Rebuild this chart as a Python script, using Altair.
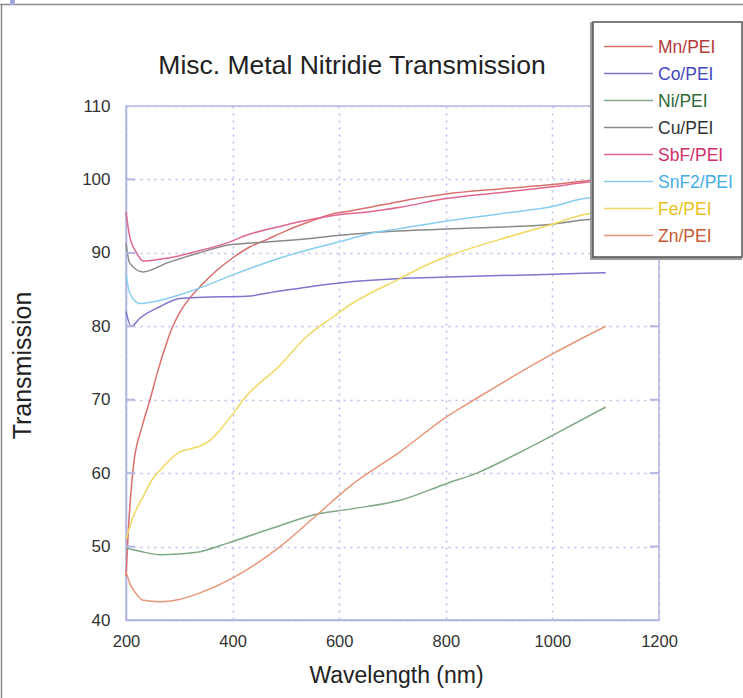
import altair as alt
import pandas as pd

# ---------------- data ----------------
SERIES = ["Mn/PEI", "Co/PEI", "Ni/PEI", "Cu/PEI", "SbF/PEI", "SnF2/PEI", "Fe/PEI", "Zn/PEI"]
LINE_COLORS = ["#d9706e", "#7d76cc", "#7fa886", "#8a8a8a", "#e2668f", "#86cdf0", "#f1d860", "#e8967a"]
TEXT_COLORS = ["#b53a3a", "#4646c0", "#2f6a3a", "#333333", "#d0306a", "#45aee6", "#e8c21a", "#c65a32"]

MN_WL = [200, 205, 214, 230, 245, 260, 276, 286, 301, 316, 339, 370, 400, 432, 464, 500, 539, 582, 620, 658, 714, 800, 900, 1000, 1062, 1100]
MN_T  = [46.0, 53.0, 61.0, 66.3, 70.0, 74.0, 77.7, 79.7, 81.9, 83.5, 85.4, 87.6, 89.3, 90.8, 91.8, 93.0, 94.1, 95.2, 95.7, 96.2, 97.0, 98.0, 98.7, 99.3, 99.8, 100.0]

CO_WL = [200, 210, 226, 264, 301, 345, 426, 489, 601, 714, 802, 900, 1002, 1100]
CO_T  = [82.0, 80.0, 81.1, 82.7, 83.8, 83.95, 84.1, 84.8, 85.9, 86.5, 86.7, 86.9, 87.1, 87.3]

NI_WL = [200, 230, 264, 300, 339, 376, 400, 483, 551, 620, 714, 802, 858, 930, 1002, 1100]
NI_T  = [49.8, 49.3, 48.9, 49.0, 49.3, 50.1, 50.7, 52.7, 54.3, 55.1, 56.3, 58.6, 60.0, 62.5, 65.2, 69.0]

CU_WL = [200, 207, 232, 276, 333, 395, 426, 489, 551, 601, 658, 800, 1000, 1062, 1100]
CU_T  = [91.3, 88.6, 87.4, 88.6, 89.9, 91.1, 91.3, 91.6, 92.0, 92.4, 92.75, 93.25, 93.9, 94.5, 94.6]

SBF_WL = [200, 207, 220, 232, 250, 276, 333, 395, 426, 489, 551, 600, 658, 714, 800, 900, 1000, 1062, 1100]
SBF_T  = [95.6, 92.2, 90.0, 88.9, 89.0, 89.25, 90.2, 91.5, 92.4, 93.6, 94.6, 95.2, 95.6, 96.2, 97.4, 98.2, 99.0, 99.6, 99.9]

SNF_WL = [200, 207, 226, 251, 301, 345, 400, 426, 489, 551, 601, 658, 714, 800, 900, 1000, 1060, 1100]
SNF_T  = [87.2, 84.5, 83.1, 83.35, 84.3, 85.4, 87.0, 87.7, 89.3, 90.6, 91.5, 92.65, 93.3, 94.3, 95.3, 96.3, 97.4, 97.6]

FE_WL = [200, 212, 232, 250, 264, 285, 301, 320, 339, 360, 380, 401, 420, 489, 539, 589, 620, 714, 764, 802, 900, 1000, 1062, 1100]
FE_T  = [51.0, 53.8, 56.8, 59.2, 60.4, 62.0, 62.9, 63.3, 63.7, 64.6, 66.2, 68.1, 70.0, 74.7, 78.6, 81.3, 82.9, 86.5, 88.35, 89.5, 91.8, 93.9, 95.25, 95.6]

ZN_WL = [200, 207, 215, 232, 264, 300, 339, 400, 489, 558, 620, 714, 802, 858, 1002, 1100]
ZN_T  = [46.6, 45.0, 44.0, 42.7, 42.5, 42.8, 43.7, 45.7, 50.0, 54.3, 58.2, 62.9, 67.7, 70.2, 76.3, 80.0]

WL_ALL = [MN_WL, CO_WL, NI_WL, CU_WL, SBF_WL, SNF_WL, FE_WL, ZN_WL]
T_ALL = [MN_T, CO_T, NI_T, CU_T, SBF_T, SNF_T, FE_T, ZN_T]

Y_TICKS = [40, 50, 60, 70, 80, 90, 100, 110]
X_TICKS = [200, 400, 600, 800, 1000, 1200]

rows = []
for name, wls, ts in zip(SERIES, WL_ALL, T_ALL):
    for w, t in zip(wls, ts):
        rows.append({"series": name, "wl": w, "T": t})
df = pd.DataFrame(rows)

legend_df = pd.DataFrame({"series": SERIES, "idx": list(range(len(SERIES))), "tcolor": TEXT_COLORS})

# ---------------- styling constants ----------------
W, H = 533, 514
AX = "#b3b6e3"
GRID = "#b9bbea"
SANS = "Liberation Sans, Arial, Helvetica, sans-serif"

xscale = alt.Scale(domain=[200, 1200], nice=False, zero=False)
yscale = alt.Scale(domain=[40, 110], nice=False, zero=False)

xaxis = alt.Axis(values=X_TICKS, format="d", grid=True, gridColor=GRID, gridDash=[2, 5], gridWidth=1.5,
                 ticks=False, tickSize=0, domainColor=AX, domainWidth=1.5, labelFlush=False,
                 labelFont=SANS, labelFontSize=16.5, labelColor="#333", labelPadding=13,
                 title="Wavelength (nm)", titleFont=SANS, titleFontSize=23, titleFontWeight="normal",
                 titleColor="#222", titleX=270, titleY=62, titleBaseline="alphabetic", titleAlign="center")
yaxis = alt.Axis(values=Y_TICKS, grid=True, gridColor=GRID, gridDash=[2, 5], gridWidth=1.5,
                 ticks=False, tickSize=0, domainColor=AX, domainWidth=1.5, labelFlush=False,
                 labelFont=SANS, labelFontSize=17, labelColor="#333", labelPadding=16,
                 title="Transmission", titleFont=SANS, titleFontSize=25, titleFontWeight="normal",
                 titleColor="#222", titleX=-96, titleY=259, titleAngle=270, titleBaseline="alphabetic",
                 titleAlign="center")

color_scale = alt.Scale(domain=SERIES, range=LINE_COLORS)

lines = alt.Chart(df).mark_line(strokeWidth=1.5, interpolate="monotone").encode(
    x=alt.X("wl:Q", scale=xscale, axis=xaxis),
    y=alt.Y("T:Q", scale=yscale, axis=yaxis),
    color=alt.Color("series:N", scale=color_scale, legend=None),
    order=alt.Order("wl:Q"),
)

# inward tick marks on left and right frame edges
tick_df = pd.DataFrame({"T": Y_TICKS[1:-1]})
ticks_left = alt.Chart(tick_df).mark_rule(color=AX, strokeWidth=2).encode(
    y=alt.Y("T:Q", scale=yscale, axis=yaxis), x=alt.value(0), x2=alt.value(9))
ticks_right = alt.Chart(tick_df).mark_rule(color=AX, strokeWidth=2).encode(
    y=alt.Y("T:Q", scale=yscale, axis=yaxis), x=alt.value(W - 9), x2=alt.value(W))

# chart title (real text)
title = alt.Chart(pd.DataFrame({"t": ["Misc. Metal Nitridie Transmission"]})).mark_text(
    font=SANS, fontSize=26.5, color="#222", align="center", baseline="alphabetic").encode(
    text="t:N", x=alt.value(226), y=alt.value(-32))

# legend box
box_shadow = alt.Chart(pd.DataFrame({"a": [0]})).mark_rect(fill="#9a9a9a").encode(
    x=alt.value(464), x2=alt.value(616), y=alt.value(-84), y2=alt.value(154))
box = alt.Chart(pd.DataFrame({"a": [0]})).mark_rect(fill="white", stroke="#555", strokeWidth=1.5).encode(
    x=alt.value(467), x2=alt.value(616), y=alt.value(-84), y2=alt.value(151))

leg_base = alt.Chart(legend_df).transform_calculate(
    ly="-59.5 + 27 * datum.idx", lx1="478", lx2="527", tx="532")
leg_lines = leg_base.mark_rule(strokeWidth=1.4).encode(
    x=alt.X("lx1:Q", scale=None, axis=None), x2="lx2:Q",
    y=alt.Y("ly:Q", scale=None, axis=None),
    color=alt.Color("series:N", scale=color_scale, legend=None))
leg_text = leg_base.mark_text(font=SANS, fontSize=17.5, align="left", baseline="middle", dy=1).encode(
    x=alt.X("tx:Q", scale=None, axis=None),
    y=alt.Y("ly:Q", scale=None, axis=None),
    text="series:N",
    color=alt.Color("tcolor:N", scale=None, legend=None))

# outer image frame
frame_top = alt.Chart(pd.DataFrame({"a": [0]})).mark_rule(color="#8c8c8c", strokeWidth=1.5).encode(
    x=alt.value(-126), x2=alt.value(617), y=alt.value(-101.5))
frame_left = alt.Chart(pd.DataFrame({"a": [0]})).mark_rule(color="#8c8c8c", strokeWidth=1.5).encode(
    x=alt.value(-124.5), y=alt.value(-101.5), y2=alt.value(592))
corner = alt.Chart(pd.DataFrame({"a": [0]})).mark_rect(fill="#a3a8dc").encode(
    x=alt.value(-116), x2=alt.value(-111), y=alt.value(-106), y2=alt.value(-101))

chart = alt.layer(
    lines, ticks_left, ticks_right, title, box_shadow, box, leg_lines, leg_text,
    frame_top, frame_left, corner
).properties(
    width=W, height=H,
    autosize=alt.AutoSizeParams(type="none"),
    padding={"left": 126, "top": 106, "right": 84, "bottom": 78},
    background="white",
).configure_view(stroke=AX, strokeWidth=1.5)

chart.save("out.html", embed_options={"renderer": "svg", "actions": False})
